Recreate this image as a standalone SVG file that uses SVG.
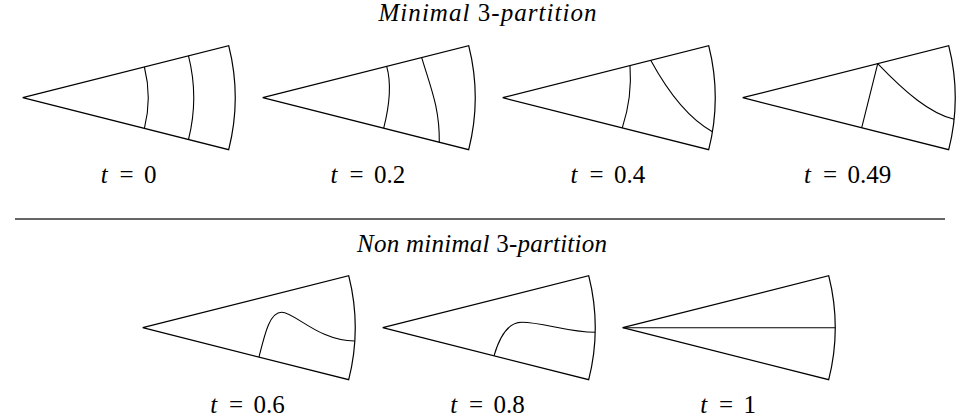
<svg xmlns="http://www.w3.org/2000/svg" width="960" height="419" viewBox="0 0 960 419">
<defs>
<style>
.w{fill:none;stroke:#000;stroke-width:1.2;stroke-linejoin:miter}
.c{fill:none;stroke:#000;stroke-width:1.1}
text{font-family:'Liberation Serif',serif;font-size:25px;fill:#000}
.it{font-style:italic}
.d{font-family:'DejaVu Serif',serif;font-size:21px}
</style>
<path id="wedge" class="w" d="M0,0 L206,-52 A212.46,212.46 0 0 1 206,52 Z"/>
</defs>
<rect width="960" height="419" fill="#fff"/>

<text x="378.5" y="21" textLength="218" lengthAdjust="spacing"><tspan class="it">Minimal </tspan>3<tspan class="it">-partition</tspan></text>

<g id="w1" transform="translate(22.7,97.7)">
<use href="#wedge"/>
<path class="c" d="M121.7,-30.7 A125.5,125.5 0 0 1 121.7,30.7"/>
<path class="c" d="M165.8,-41.8 A171,171 0 0 1 165.8,41.8"/>
</g>
<g id="w2" transform="translate(262.7,97.7)">
<use href="#wedge"/>
<path class="c" d="M124,-31.3 Q130.7,-7.6 121,30.5"/>
<path class="c" d="M159,-40.1 C168,-10 177,10 176.6,44.6"/>
</g>
<g id="w3" transform="translate(502.7,97.7)">
<use href="#wedge"/>
<path class="c" d="M127.3,-32.1 Q129.7,-1 119.6,30.2"/>
<path class="c" d="M148,-37.4 C162.4,-11 183.6,19.6 209.7,34"/>
</g>
<g id="w4" transform="translate(742.7,97.7)">
<use href="#wedge"/>
<path class="c" d="M135,-34.1 L119,30"/>
<path class="c" d="M135,-34.1 C162.6,-5.3 187,15.6 211.4,21.6"/>
</g>

<text y="182.7"><tspan class="it" x="100.7">t</tspan><tspan x="119.5">=</tspan><tspan x="144">0</tspan></text>
<text y="182.7"><tspan class="it" x="330.6">t</tspan><tspan x="349.4">=</tspan><tspan x="374">0.2</tspan></text>
<text y="182.7"><tspan class="it" x="570.6">t</tspan><tspan x="589.4">=</tspan><tspan x="614">0.4</tspan></text>
<text y="182.7"><tspan class="it" x="804.1">t</tspan><tspan x="822.9">=</tspan><tspan x="847.5">0.49</tspan></text>

<line x1="15" y1="219" x2="945" y2="219" stroke="#333" stroke-width="1.3"/>

<text x="357" y="252" textLength="250" lengthAdjust="spacing"><tspan class="it">Non minimal </tspan>3<tspan class="it">-partition</tspan></text>

<g id="w5" transform="translate(142.7,327.7)">
<use href="#wedge"/>
<path class="c" d="M116.3,29.35 C122.3,5.4 127,-15.4 139,-15.4 C152,-15.4 176,13.3 212,13.3"/>
</g>
<g id="w6" transform="translate(382.7,327.7)">
<use href="#wedge"/>
<path class="c" d="M111.3,28.1 C116.3,11.1 124,-5.4 139,-5.4 C160,-5.4 185,4.6 212.4,4.6"/>
</g>
<g id="w7" transform="translate(622.7,327.7)">
<use href="#wedge"/>
<path class="c" d="M0,0 L212.46,0" stroke="#555" stroke-width="1.4"/>
</g>

<text y="412.7"><tspan class="it" x="210.2">t</tspan><tspan x="229">=</tspan><tspan x="253.5">0.6</tspan></text>
<text y="412.7"><tspan class="it" x="450.2">t</tspan><tspan x="469">=</tspan><tspan x="493.5">0.8</tspan></text>
<text y="412.7"><tspan class="it" x="700.3">t</tspan><tspan x="719.1">=</tspan><tspan x="743.6">1</tspan></text>
</svg>
